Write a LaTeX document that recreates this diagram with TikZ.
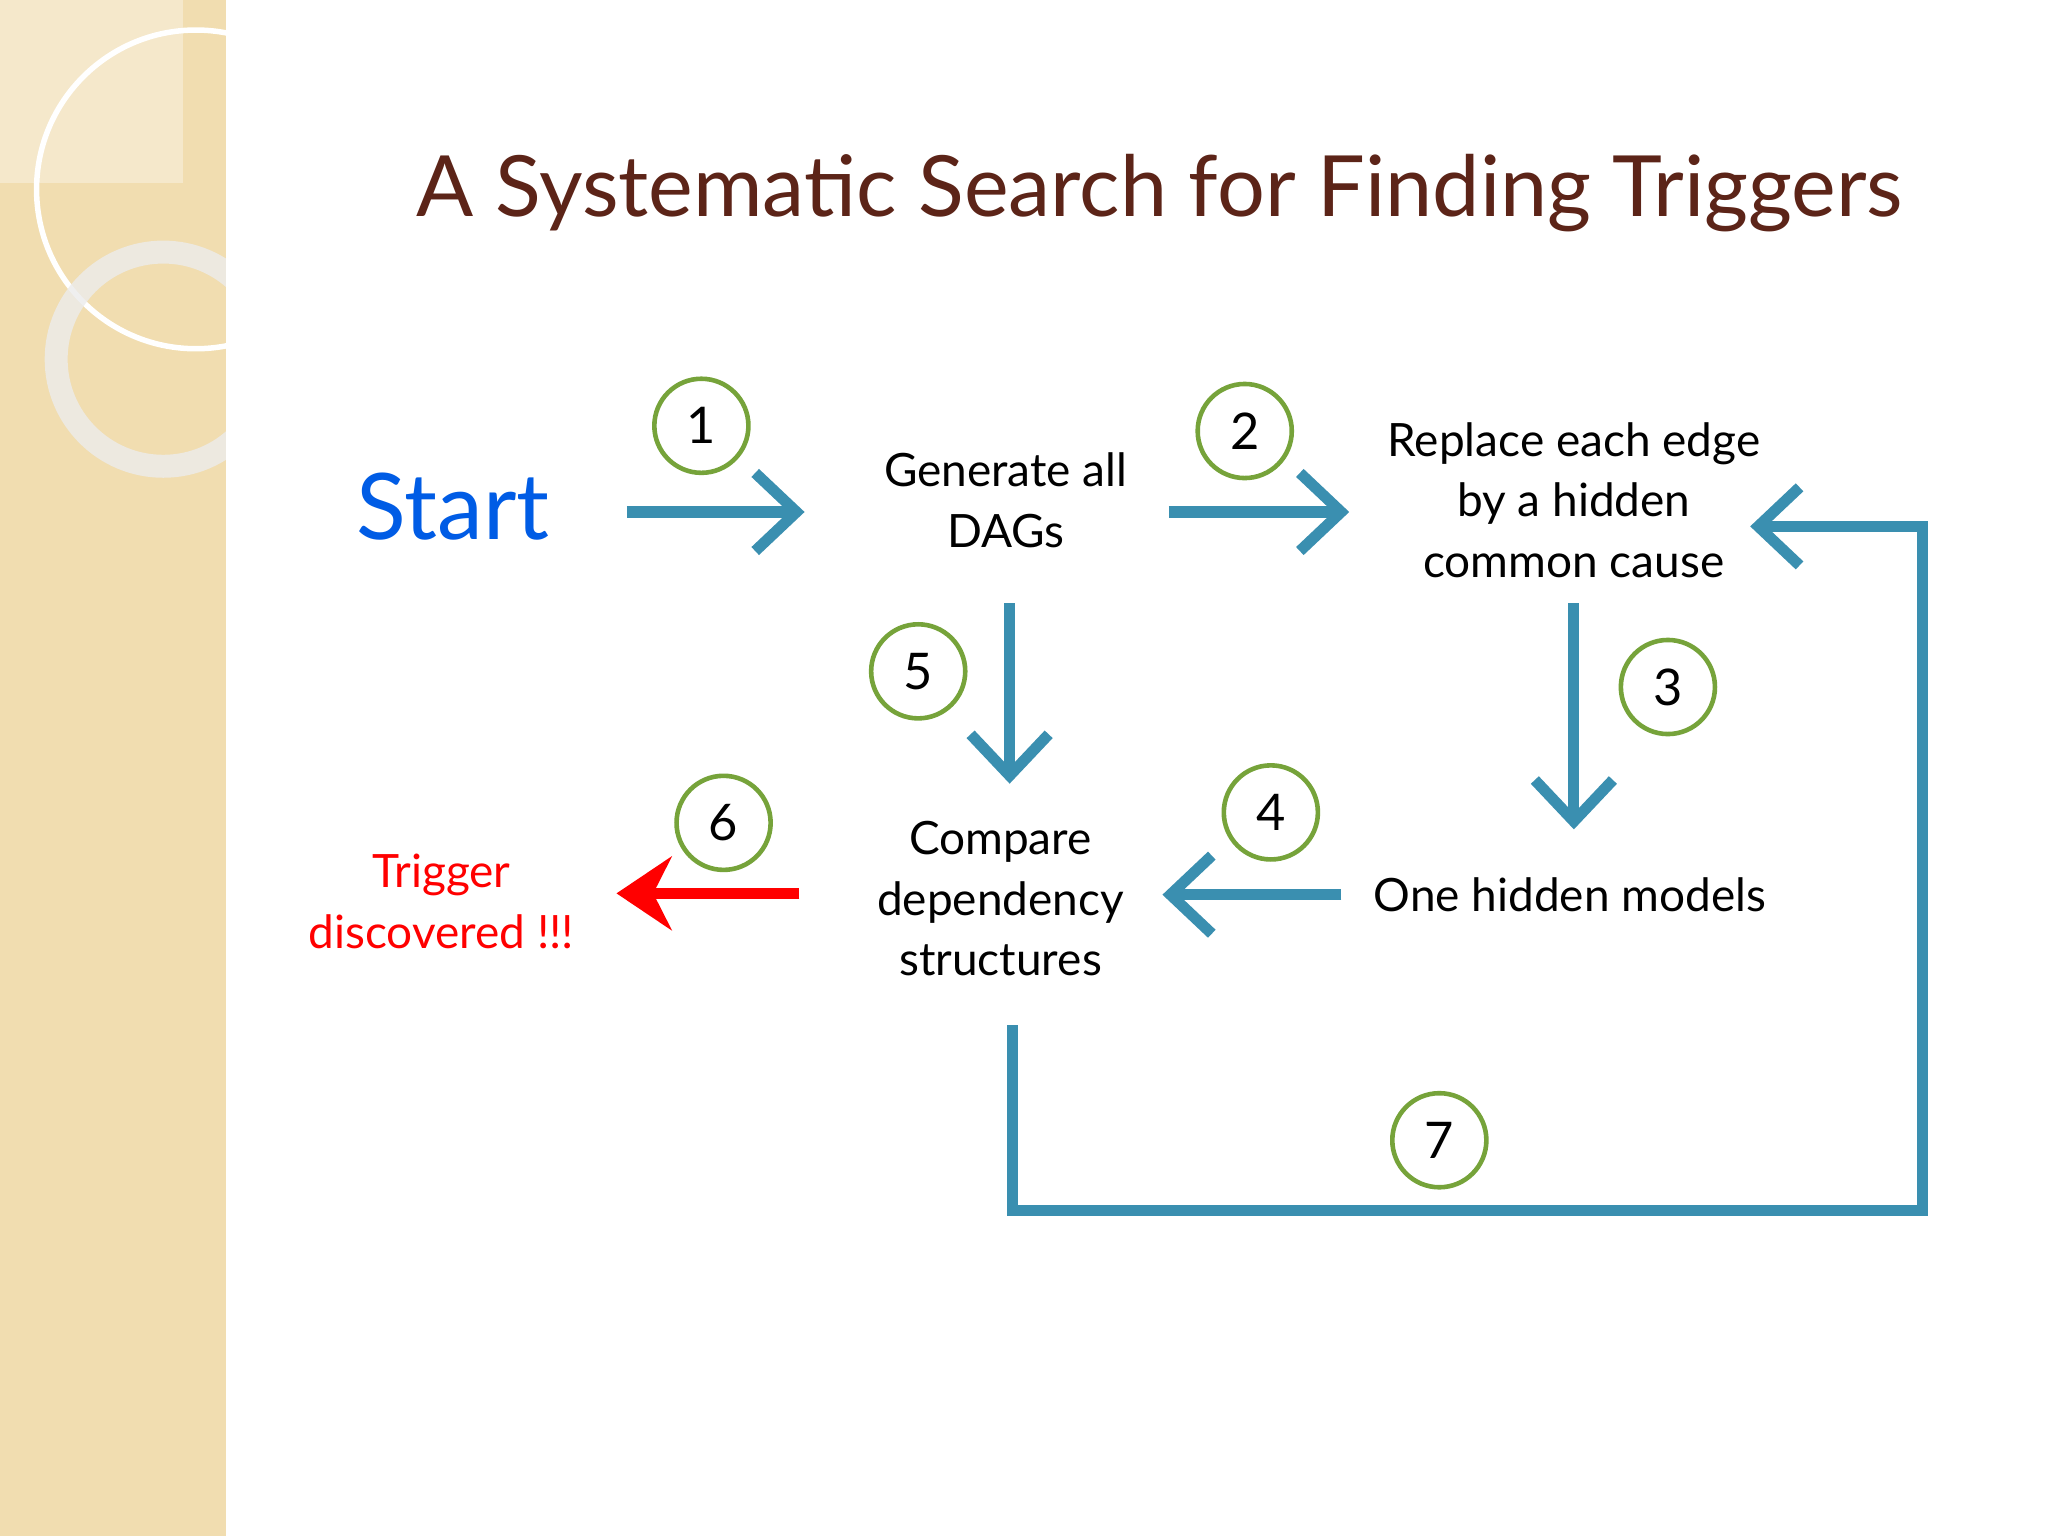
\documentclass[tikz,border=0pt]{standalone}
\usepackage{fontspec}
\setmainfont{Lato}
\usetikzlibrary{arrows.meta}
\definecolor{teal1}{HTML}{3A8FB0}
\definecolor{grn}{HTML}{76A33A}
\definecolor{brn}{HTML}{5C2418}
\definecolor{band}{HTML}{F1DDB0}
\begin{document}
\begin{tikzpicture}[x=0.01cm,y=-0.01cm,
  flow/.style={line width=2.4pt,draw=teal1,-{Straight Barb[length=9pt,width=17pt,line width=2.4pt]}},
  num/.style={circle,draw=grn,line width=1pt,minimum size=0.72cm,inner sep=0pt,font=\fontsize{11}{13}\selectfont},
  txt/.style={align=center,font=\fontsize{10}{13.2}\selectfont}]
\useasboundingbox (0,0) rectangle (1568,1176);
\fill[white] (0,0) rectangle (1568,1176);
\fill[band] (0,0) rectangle (173,1176);
\begin{scope}
\clip (0,0) rectangle (173,1176);
\fill[white,opacity=0.35] (0,0) rectangle (140,140);
\draw[white,line width=1.2pt] (150,145) circle (122);
\draw[white!85!gray,line width=5pt,opacity=0.8] (125,275) circle (82);
\end{scope}
\node[text=brn,font=\fontsize{18.4}{22}\selectfont] (title) at (888,148) {A Systematic Search for Finding Triggers};
\node[text=blue!60!cyan!90!black,font=\fontsize{20}{24}\selectfont] (start) at (347,388) {Start};
\node[txt] (gen) at (770,383) {Generate all\\DAGs};
\node[txt] (rep) at (1205,383) {Replace each edge\\by a hidden\\common cause};
\node[txt] (one) at (1202,685) {One hidden models};
\node[txt] (cmp) at (766,688) {Compare\\dependency\\structures};
\node[txt,text=red] (trig) at (338,690) {Trigger\\discovered !!!};
\node[num] (n1) at (537,326) {1};
\node[num] (n2) at (953,330) {2};
\node[num] (n3) at (1277,526) {3};
\node[num] (n4) at (973,622) {4};
\node[num] (n5) at (703,514) {5};
\node[num] (n6) at (554,630) {6};
\node[num] (n7) at (1102,873) {7};
\coordinate (a1s) at (480,392); \coordinate (a1e) at (616,392);
\coordinate (a2s) at (895,392); \coordinate (a2e) at (1033,392);
\coordinate (a5s) at (773,462); \coordinate (a5e) at (773,600);
\coordinate (a3s) at (1205,462); \coordinate (a3e) at (1205,635);
\coordinate (a4s) at (1027,685); \coordinate (a4e) at (890,685);
\coordinate (a6s) at (612,684); \coordinate (a6e) at (472,684);
\coordinate (l1) at (775,785); \coordinate (l2) at (775,927);
\coordinate (l3) at (1472,927); \coordinate (l4) at (1472,403);
\coordinate (l5) at (1340,403);
\draw[flow] (a1s) -- (a1e);
\draw[flow] (a2s) -- (a2e);
\draw[flow] (a5s) -- (a5e);
\draw[flow] (a3s) -- (a3e);
\draw[flow] (a4s) -- (a4e);
\draw[line width=2.4pt,draw=red,-{Stealth[length=12pt,width=16pt,inset=4pt]}] (a6s) -- (a6e);
\draw[flow] (l1) -- (l2) -- (l3) -- (l4) -- (l5);
\end{tikzpicture}
\end{document}
